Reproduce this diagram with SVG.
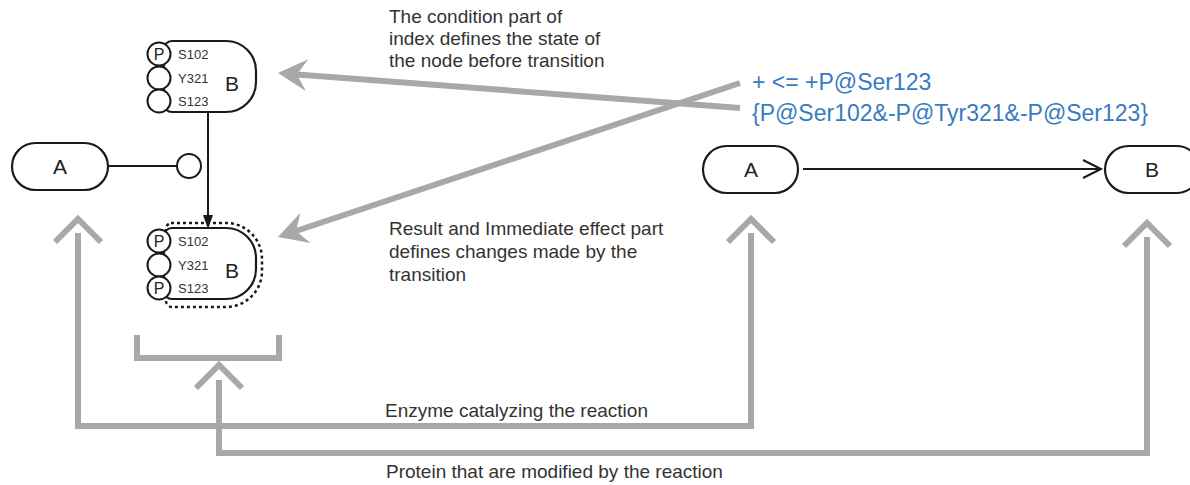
<svg xmlns="http://www.w3.org/2000/svg" width="1190" height="485" viewBox="0 0 1190 485">
<defs>
<style>
.node{fill:#fff;stroke:#1a1a1a;stroke-width:2.2}
.site{fill:#fff;stroke:#1a1a1a;stroke-width:2}
.nlabel{font-family:"Liberation Sans",Arial,sans-serif;font-size:21px;fill:#222;text-anchor:middle}
.slabel{font-family:"Liberation Sans",Arial,sans-serif;font-size:13px;fill:#333}
.plabel{font-family:"Liberation Sans",Arial,sans-serif;font-size:16px;fill:#222;text-anchor:middle}
.note{font-family:"Liberation Sans",Arial,sans-serif;font-size:19px;fill:#333}
.blue{font-family:"Liberation Sans",Arial,sans-serif;font-size:23px;fill:#3a7bbf}
.grey{fill:none;stroke:#a8a8a8;stroke-width:6;stroke-linejoin:miter}
.link{fill:none;stroke:#1a1a1a;stroke-width:2}
</style>
<marker id="gHead" markerUnits="userSpaceOnUse" viewBox="-30 -20 40 40" markerWidth="40" markerHeight="40" refX="-19" refY="0" orient="auto">
<path d="M0,0 L-29,-16 L-19,0 L-29,16 Z" fill="#a8a8a8"/>
</marker>
</defs>

<g id="connectors">
<line class="link" x1="108" y1="166" x2="177" y2="166"/>
<circle class="site" cx="189" cy="166" r="12"/>
<line class="link" x1="208" y1="112" x2="208" y2="217"/>
<polygon points="208,229 203,215 213,215" fill="#1a1a1a"/>
<line class="link" x1="803" y1="169" x2="1100" y2="169"/>
<polyline class="link" points="1083,160 1101,169 1083,178"/>
<line class="grey" x1="740" y1="108" x2="297" y2="74.4" marker-end="url(#gHead)"/>
<line class="grey" x1="740" y1="83" x2="296" y2="231" marker-end="url(#gHead)"/>
<polyline class="grey" points="137,335 137,358 279,358 279,335"/>
<polyline class="grey" points="78,233 78,426 751,426 751,233"/>
<polyline class="grey" points="55,242 78,219 101,242"/>
<polyline class="grey" points="728,242 751,219 774,242"/>
<polyline class="grey" points="219,380 219,453 1147,453 1147,237"/>
<polyline class="grey" points="196,388 219,365 242,388"/>
<polyline class="grey" points="1124,246 1147,223 1170,246"/>
</g>

<g id="nodeA1">
<rect class="node" x="12" y="143" width="96" height="47" rx="23.5"/>
<text class="nlabel" x="60" y="174">A</text>
</g>

<g id="nodeB1">
<path class="node" d="M172,41 H226 A30,30 0 0 1 256,71 V82 A30,30 0 0 1 226,112 H172 A8,8 0 0 1 164,104 V49 A8,8 0 0 1 172,41 Z"/>
<circle class="site" cx="159" cy="54" r="11.5"/>
<circle class="site" cx="159" cy="78" r="11.5"/>
<circle class="site" cx="159" cy="101" r="11.5"/>
<text class="plabel" x="159" y="60">P</text>
<text class="slabel" x="178" y="59">S102</text>
<text class="slabel" x="178" y="83">Y321</text>
<text class="slabel" x="178" y="106">S123</text>
<text class="nlabel" x="232" y="91">B</text>
</g>

<g id="nodeB2">
<path d="M171,223 H226 A36,36 0 0 1 262,259 V271 A36,36 0 0 1 226,307 H172 A6,6 0 0 1 166,301 V229 A6,6 0 0 1 171,223 Z" fill="none" stroke="#1a1a1a" stroke-width="2.5" stroke-dasharray="3,3"/>
<path class="node" d="M172,228 H226 A30,30 0 0 1 256,258 V269 A30,30 0 0 1 226,299 H172 A8,8 0 0 1 164,291 V236 A8,8 0 0 1 172,228 Z"/>
<circle class="site" cx="159" cy="241" r="11.5"/>
<circle class="site" cx="159" cy="265" r="11.5"/>
<circle class="site" cx="159" cy="288" r="11.5"/>
<text class="plabel" x="159" y="247">P</text>
<text class="plabel" x="159" y="294">P</text>
<text class="slabel" x="178" y="246">S102</text>
<text class="slabel" x="178" y="270">Y321</text>
<text class="slabel" x="178" y="293">S123</text>
<text class="nlabel" x="232" y="278">B</text>
</g>

<g id="nodeA2">
<rect class="node" x="703" y="146" width="95" height="47" rx="23.5"/>
<text class="nlabel" x="751" y="177">A</text>
</g>

<g id="nodeB3">
<rect class="node" x="1105" y="146" width="95" height="47" rx="23.5"/>
<text class="nlabel" x="1152" y="177">B</text>
</g>

<g id="labels">
<text class="note" x="389" y="23">The condition part of</text>
<text class="note" x="389" y="45">index defines the state of</text>
<text class="note" x="389" y="67">the node before transition</text>
<text class="note" x="389" y="235">Result and Immediate effect part</text>
<text class="note" x="389" y="258">defines changes made by the</text>
<text class="note" x="389" y="281">transition</text>
<text class="note" x="385" y="417">Enzyme catalyzing the reaction</text>
<text class="note" x="386" y="478">Protein that are modified by the reaction</text>
<text class="blue" x="752" y="90">+ &lt;= +P@Ser123</text>
<text class="blue" x="752" y="121">{P@Ser102&amp;-P@Tyr321&amp;-P@Ser123}</text>
</g>
</svg>
